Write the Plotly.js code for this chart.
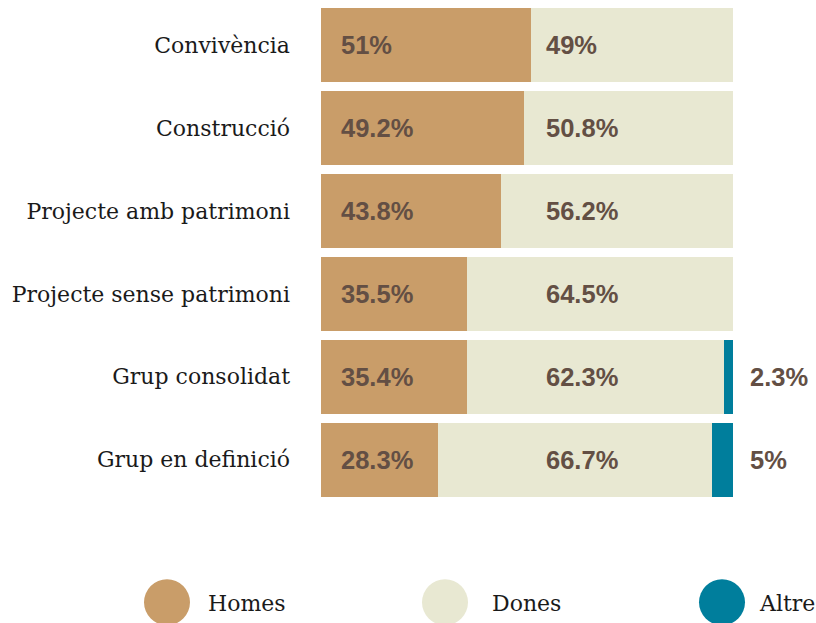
<!DOCTYPE html>
<html>
<head>
<meta charset="utf-8">
<script src="https://cdn.plot.ly/plotly-3.0.1.min.js"></script>
<style>html,body{margin:0;padding:0;background:#fff;}#chart{width:816px;height:623px;}</style>
</head>
<body>
<div id="chart"></div>
<script>
var categories = ["Convivència", "Construcció", "Projecte amb patrimoni", "Projecte sense patrimoni", "Grup consolidat", "Grup en definició"];
var seriesNames = ["Homes", "Dones", "Altres"];
var homes = [51, 49.2, 43.8, 35.5, 35.4, 28.3];
var dones = [49, 50.8, 56.2, 64.5, 62.3, 66.7];
var altres = [0, 0, 0, 0, 2.3, 5];

var colors = ["#c99d69", "#e8e8d2", "#007e9c"];
var textColor = "#634f44";
var W = 816, H = 623;
var M = {l: 321, r: 83, t: 3.5, b: 121.5};
var PW = W - M.l - M.r, PH = H - M.t - M.b;
function px2x(px) { return (px - M.l) / PW; }
function px2y(py) { return (H - M.b - py) / PH; }

var series = [homes, dones, altres];
var traces = series.map(function (vals, i) {
  return {
    type: "bar", orientation: "h", name: seriesNames[i],
    y: categories, x: vals,
    marker: {color: colors[i], line: {width: 0}},
    hoverinfo: "none", showlegend: false
  };
});

function fmt(v) { return String(v) + "%"; }
var labelX = [px2x(339), px2x(544), px2x(748)];
var annotations = [];
series.forEach(function (vals, i) {
  vals.forEach(function (v, j) {
    if (v > 0) {
      annotations.push({
        xref: "paper", yref: "y", x: labelX[i], y: categories[j],
        xanchor: "left", yanchor: "middle", showarrow: false,
        text: fmt(v),
        font: {family: "Liberation Sans, Arial, sans-serif", size: 25.5, color: textColor, weight: "bold"}
      });
    }
  });
});

var legendCircleX = [167, 445, 722];
var legendTextX = [206, 490, 757];
var legendY = 603;
var shapes = [];
seriesNames.forEach(function (n, i) {
  shapes.push({
    type: "circle", xref: "paper", yref: "paper",
    xsizemode: "pixel", ysizemode: "pixel",
    xanchor: px2x(legendCircleX[i]), yanchor: px2y(legendY),
    x0: -23, x1: 23, y0: -23, y1: 23,
    fillcolor: colors[i], line: {width: 0}
  });
  annotations.push({
    xref: "paper", yref: "paper", x: px2x(legendTextX[i]), y: px2y(legendY + 1),
    xanchor: "left", yanchor: "middle", showarrow: false, text: n,
    font: {family: "DejaVu Serif, serif", size: 22, color: "#1a1a1a"}
  });
});

var layout = {
  width: W, height: H,
  margin: M,
  barmode: "stack",
  bargap: 9 / 83,
  paper_bgcolor: "#ffffff", plot_bgcolor: "#ffffff",
  showlegend: false,
  xaxis: {range: [0, 100], visible: false, fixedrange: true},
  yaxis: {
    autorange: "reversed", showgrid: false, zeroline: false, showline: false,
    ticks: "", ticklabelstandoff: 30,
    tickfont: {family: "DejaVu Serif, serif", size: 22, color: "#1a1a1a"}
  },
  annotations: annotations,
  shapes: shapes
};

Plotly.newPlot("chart", traces, layout, {displayModeBar: false, staticPlot: true});
</script>
</body>
</html>
